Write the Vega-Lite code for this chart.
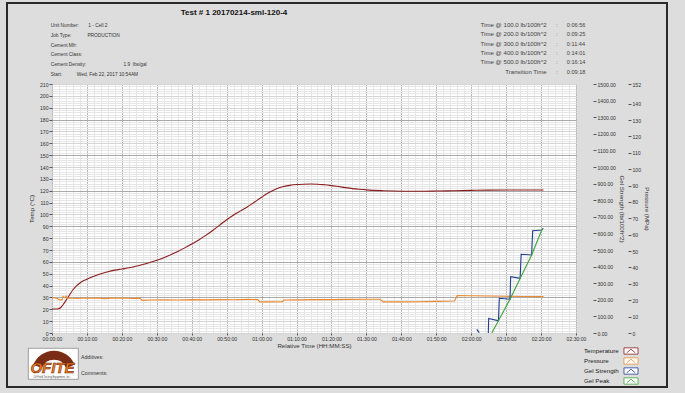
{
  "$schema": "https://vega.github.io/schema/vega-lite/v6.json",
  "width": 524,
  "height": 249,
  "autosize": {"type": "none"},
  "padding": {"left": 52, "top": 84, "right": 109, "bottom": 60},
  "background": "#dddddd",
  "config": {
    "font": "Liberation Sans",
    "view": {"fill": "white", "stroke": "#9a9a9a", "strokeWidth": 1},
    "axis": {
      "labelFont": "Liberation Sans", "labelFontSize": 5.1, "labelColor": "#333333",
      "titleFont": "Liberation Sans", "titleFontSize": 6.2, "titleFontWeight": "normal", "titleColor": "#333333",
      "tickColor": "#555555", "tickSize": 3, "labelPadding": 1, "domain": false, "labelOverlap": false
    },
    "text": {"font": "Liberation Sans", "color": "#333333"}
  },
  "datasets": {
    "notes": [
      {"id": "frame", "text": ""},
      {"id": "title", "text": "Test # 1 20170214-sml-120-4"},
      {"id": "info", "text": "Unit Number:\u00a0\u00a0\u00a0\u00a0\u00a0\u00a0\u00a01 - Cell 2\nJob Type:\u00a0\u00a0\u00a0\u00a0\u00a0\u00a0\u00a0\u00a0\u00a0\u00a0\u00a0\u00a0PRODUCTION\nCement Mfr:\nCement Class:\nCement Density:\u00a0\u00a0\u00a0\u00a0\u00a0\u00a0\u00a0\u00a0\u00a0\u00a0\u00a0\u00a0\u00a0\u00a0\u00a0\u00a0\u00a0\u00a0\u00a0\u00a0\u00a0\u00a0\u00a0\u00a0\u00a0\u00a0\u00a0\u00a01.9\u00a0\u00a0lbs/gal\nStart:\u00a0\u00a0\u00a0\u00a0\u00a0\u00a0\u00a0\u00a0\u00a0\u00a0\u00a0Wed, Feb 22, 2017 10:54AM"},
      {"id": "timelabels", "text": "Time @ 100.0 lb/100ft^2\nTime @ 200.0 lb/100ft^2\nTime @ 300.0 lb/100ft^2\nTime @ 400.0 lb/100ft^2\nTime @ 500.0 lb/100ft^2\nTransition Time"},
      {"id": "timevalues", "text": ":\u00a0\u00a0\u00a0\u00a0\u00a0\u00a00:06:56\n:\u00a0\u00a0\u00a0\u00a0\u00a0\u00a00:09:25\n:\u00a0\u00a0\u00a0\u00a0\u00a0\u00a00:11:44\n:\u00a0\u00a0\u00a0\u00a0\u00a0\u00a00:14:01\n:\u00a0\u00a0\u00a0\u00a0\u00a0\u00a00:16:14\n:\u00a0\u00a0\u00a0\u00a0\u00a0\u00a00:09:18"},
      {"id": "footer", "text": "\u00a0\u00a0\u00a0Additives:\nComments:"},
      {"id": "logo", "text": "OFITE"},
      {"id": "maker", "text": "Oil Field Testing Equipment, Inc."}
    ],
    "readings": [
      {"series": "Temperature", "seg": "a", "minutes": 0, "value": 20.2},
      {"series": "Temperature", "seg": "a", "minutes": 1, "value": 20.2},
      {"series": "Temperature", "seg": "a", "minutes": 1.8, "value": 20.4},
      {"series": "Temperature", "seg": "a", "minutes": 2.5, "value": 21.5},
      {"series": "Temperature", "seg": "a", "minutes": 3.2, "value": 24},
      {"series": "Temperature", "seg": "a", "minutes": 4, "value": 27.5},
      {"series": "Temperature", "seg": "a", "minutes": 5, "value": 32},
      {"series": "Temperature", "seg": "a", "minutes": 6, "value": 36.5},
      {"series": "Temperature", "seg": "a", "minutes": 7, "value": 39.8},
      {"series": "Temperature", "seg": "a", "minutes": 8, "value": 42.2},
      {"series": "Temperature", "seg": "a", "minutes": 9, "value": 44},
      {"series": "Temperature", "seg": "a", "minutes": 10, "value": 45.3},
      {"series": "Temperature", "seg": "a", "minutes": 12, "value": 47.8},
      {"series": "Temperature", "seg": "a", "minutes": 14, "value": 50},
      {"series": "Temperature", "seg": "a", "minutes": 16, "value": 51.7},
      {"series": "Temperature", "seg": "a", "minutes": 18, "value": 53},
      {"series": "Temperature", "seg": "a", "minutes": 20, "value": 54},
      {"series": "Temperature", "seg": "a", "minutes": 22, "value": 55},
      {"series": "Temperature", "seg": "a", "minutes": 24, "value": 56.3},
      {"series": "Temperature", "seg": "a", "minutes": 26, "value": 57.8},
      {"series": "Temperature", "seg": "a", "minutes": 28, "value": 59.5},
      {"series": "Temperature", "seg": "a", "minutes": 30, "value": 61.3},
      {"series": "Temperature", "seg": "a", "minutes": 32, "value": 63.5},
      {"series": "Temperature", "seg": "a", "minutes": 34, "value": 66},
      {"series": "Temperature", "seg": "a", "minutes": 36, "value": 68.8},
      {"series": "Temperature", "seg": "a", "minutes": 38, "value": 71.8},
      {"series": "Temperature", "seg": "a", "minutes": 40, "value": 75},
      {"series": "Temperature", "seg": "a", "minutes": 42, "value": 78.5},
      {"series": "Temperature", "seg": "a", "minutes": 44, "value": 82.3},
      {"series": "Temperature", "seg": "a", "minutes": 46, "value": 86.5},
      {"series": "Temperature", "seg": "a", "minutes": 48, "value": 91},
      {"series": "Temperature", "seg": "a", "minutes": 50, "value": 95.5},
      {"series": "Temperature", "seg": "a", "minutes": 52, "value": 99.5},
      {"series": "Temperature", "seg": "a", "minutes": 54, "value": 103},
      {"series": "Temperature", "seg": "a", "minutes": 56, "value": 106.5},
      {"series": "Temperature", "seg": "a", "minutes": 58, "value": 110.5},
      {"series": "Temperature", "seg": "a", "minutes": 60, "value": 114.5},
      {"series": "Temperature", "seg": "a", "minutes": 62, "value": 118.2},
      {"series": "Temperature", "seg": "a", "minutes": 64, "value": 121.2},
      {"series": "Temperature", "seg": "a", "minutes": 66, "value": 123.3},
      {"series": "Temperature", "seg": "a", "minutes": 68, "value": 124.5},
      {"series": "Temperature", "seg": "a", "minutes": 70, "value": 125.2},
      {"series": "Temperature", "seg": "a", "minutes": 72, "value": 125.5},
      {"series": "Temperature", "seg": "a", "minutes": 74, "value": 125.6},
      {"series": "Temperature", "seg": "a", "minutes": 76, "value": 125.5},
      {"series": "Temperature", "seg": "a", "minutes": 78, "value": 125},
      {"series": "Temperature", "seg": "a", "minutes": 80, "value": 124.3},
      {"series": "Temperature", "seg": "a", "minutes": 82, "value": 123.5},
      {"series": "Temperature", "seg": "a", "minutes": 84, "value": 122.6},
      {"series": "Temperature", "seg": "a", "minutes": 86, "value": 121.8},
      {"series": "Temperature", "seg": "a", "minutes": 88, "value": 121.2},
      {"series": "Temperature", "seg": "a", "minutes": 90, "value": 120.7},
      {"series": "Temperature", "seg": "a", "minutes": 95, "value": 120},
      {"series": "Temperature", "seg": "a", "minutes": 100, "value": 119.6},
      {"series": "Temperature", "seg": "a", "minutes": 105, "value": 119.5},
      {"series": "Temperature", "seg": "a", "minutes": 110, "value": 119.7},
      {"series": "Temperature", "seg": "a", "minutes": 115, "value": 120},
      {"series": "Temperature", "seg": "a", "minutes": 120, "value": 120.3},
      {"series": "Temperature", "seg": "a", "minutes": 125, "value": 120.5},
      {"series": "Temperature", "seg": "a", "minutes": 130, "value": 120.6},
      {"series": "Temperature", "seg": "a", "minutes": 135, "value": 120.6},
      {"series": "Temperature", "seg": "a", "minutes": 140.7, "value": 120.6},
      {"series": "Pressure", "seg": "a", "minutes": 0, "value": 21.6},
      {"series": "Pressure", "seg": "a", "minutes": 0.8, "value": 21.4},
      {"series": "Pressure", "seg": "a", "minutes": 1.5, "value": 21.1},
      {"series": "Pressure", "seg": "a", "minutes": 2.2, "value": 20.2},
      {"series": "Pressure", "seg": "a", "minutes": 2.9, "value": 20.3},
      {"series": "Pressure", "seg": "a", "minutes": 3.2, "value": 22.3},
      {"series": "Pressure", "seg": "a", "minutes": 3.6, "value": 21.5},
      {"series": "Pressure", "seg": "a", "minutes": 4, "value": 22.5},
      {"series": "Pressure", "seg": "a", "minutes": 4.5, "value": 21.2},
      {"series": "Pressure", "seg": "a", "minutes": 5.5, "value": 21.4},
      {"series": "Pressure", "seg": "a", "minutes": 7, "value": 21.1},
      {"series": "Pressure", "seg": "a", "minutes": 9, "value": 21.4},
      {"series": "Pressure", "seg": "a", "minutes": 11, "value": 21.2},
      {"series": "Pressure", "seg": "a", "minutes": 13, "value": 21.4},
      {"series": "Pressure", "seg": "a", "minutes": 15, "value": 21},
      {"series": "Pressure", "seg": "a", "minutes": 17, "value": 21.3},
      {"series": "Pressure", "seg": "a", "minutes": 19, "value": 21.2},
      {"series": "Pressure", "seg": "a", "minutes": 21, "value": 21.4},
      {"series": "Pressure", "seg": "a", "minutes": 23, "value": 21.1},
      {"series": "Pressure", "seg": "a", "minutes": 25.2, "value": 21.3},
      {"series": "Pressure", "seg": "a", "minutes": 25.8, "value": 19.9},
      {"series": "Pressure", "seg": "a", "minutes": 28, "value": 20.1},
      {"series": "Pressure", "seg": "a", "minutes": 32, "value": 20.3},
      {"series": "Pressure", "seg": "a", "minutes": 36, "value": 20.1},
      {"series": "Pressure", "seg": "a", "minutes": 40, "value": 20.4},
      {"series": "Pressure", "seg": "a", "minutes": 44, "value": 20.2},
      {"series": "Pressure", "seg": "a", "minutes": 48, "value": 20.4},
      {"series": "Pressure", "seg": "a", "minutes": 52, "value": 20.3},
      {"series": "Pressure", "seg": "a", "minutes": 56, "value": 20.5},
      {"series": "Pressure", "seg": "a", "minutes": 58.9, "value": 20.4},
      {"series": "Pressure", "seg": "a", "minutes": 59.5, "value": 19},
      {"series": "Pressure", "seg": "a", "minutes": 62, "value": 19},
      {"series": "Pressure", "seg": "a", "minutes": 66, "value": 19.1},
      {"series": "Pressure", "seg": "a", "minutes": 66.4, "value": 20.1},
      {"series": "Pressure", "seg": "a", "minutes": 70, "value": 20.2},
      {"series": "Pressure", "seg": "a", "minutes": 75, "value": 20.4},
      {"series": "Pressure", "seg": "a", "minutes": 80, "value": 20.4},
      {"series": "Pressure", "seg": "a", "minutes": 85, "value": 20.5},
      {"series": "Pressure", "seg": "a", "minutes": 90, "value": 20.6},
      {"series": "Pressure", "seg": "a", "minutes": 93.9, "value": 20.6},
      {"series": "Pressure", "seg": "a", "minutes": 94.8, "value": 19},
      {"series": "Pressure", "seg": "a", "minutes": 100, "value": 19},
      {"series": "Pressure", "seg": "a", "minutes": 105, "value": 19.1},
      {"series": "Pressure", "seg": "a", "minutes": 110, "value": 19.3},
      {"series": "Pressure", "seg": "a", "minutes": 115.2, "value": 19.5},
      {"series": "Pressure", "seg": "a", "minutes": 116, "value": 22.8},
      {"series": "Pressure", "seg": "a", "minutes": 120, "value": 22.7},
      {"series": "Pressure", "seg": "a", "minutes": 125, "value": 22.6},
      {"series": "Pressure", "seg": "a", "minutes": 130, "value": 22.4},
      {"series": "Pressure", "seg": "a", "minutes": 135, "value": 22.3},
      {"series": "Pressure", "seg": "a", "minutes": 140.7, "value": 22.2},
      {"series": "Gel Strength", "seg": "a", "minutes": 121.6, "value": 22},
      {"series": "Gel Strength", "seg": "a", "minutes": 122.3, "value": 2},
      {"series": "Gel Strength", "seg": "b", "minutes": 124.9, "value": 0},
      {"series": "Gel Strength", "seg": "b", "minutes": 125, "value": 88},
      {"series": "Gel Strength", "seg": "b", "minutes": 127.8, "value": 74},
      {"series": "Gel Strength", "seg": "b", "minutes": 128.05, "value": 209},
      {"series": "Gel Strength", "seg": "b", "minutes": 131.1, "value": 203},
      {"series": "Gel Strength", "seg": "b", "minutes": 131.3, "value": 339},
      {"series": "Gel Strength", "seg": "b", "minutes": 134, "value": 329},
      {"series": "Gel Strength", "seg": "b", "minutes": 134.3, "value": 474},
      {"series": "Gel Strength", "seg": "b", "minutes": 137.3, "value": 470},
      {"series": "Gel Strength", "seg": "b", "minutes": 137.6, "value": 616},
      {"series": "Gel Strength", "seg": "b", "minutes": 140.2, "value": 620},
      {"series": "Gel Strength", "seg": "b", "minutes": 140.6, "value": 631},
      {"series": "Gel Peak", "seg": "c", "minutes": 125.9, "value": 0},
      {"series": "Gel Peak", "seg": "c", "minutes": 127.8, "value": 74},
      {"series": "Gel Peak", "seg": "c", "minutes": 131.1, "value": 203},
      {"series": "Gel Peak", "seg": "c", "minutes": 134, "value": 329},
      {"series": "Gel Peak", "seg": "c", "minutes": 137.3, "value": 470},
      {"series": "Gel Peak", "seg": "c", "minutes": 140.2, "value": 620},
      {"series": "Gel Peak", "seg": "c", "minutes": 140.6, "value": 631}
    ]
  },
  "resolve": {"scale": {"y": "independent"}, "axis": {"x": "independent"}},
  "layer": [
    {
      "data": {"name": "notes"},
      "transform": [{"filter": "datum.id === 'frame'"}],
      "mark": {"type": "rect", "filled": false, "stroke": "#2a2a2a", "strokeWidth": 2},
      "encoding": {
        "x": {"datum": -12.88, "type": "quantitative", "scale": {"domain": [0, 150], "nice": false, "zero": false},
              "axis": {"orient": "top", "tickCount": 75, "grid": true, "gridColor": "#e6e6e6", "labels": false, "ticks": false, "title": null}},
        "x2": {"datum": 176.05},
        "y": {"datum": 278.3, "type": "quantitative", "scale": {"domain": [0, 210], "nice": false, "zero": false},
              "axis": {"orient": "left", "tickCount": 105, "grid": true, "gridColor": "#e6e6e6", "labels": false, "ticks": false, "title": null}},
        "y2": {"datum": -45.54}
      }
    },
    {
      "data": {"name": "readings"},
      "transform": [{"filter": "datum.series === 'Temperature'"}],
      "mark": {"type": "line", "strokeWidth": 1.1, "interpolate": "monotone"},
      "encoding": {
        "x": {"field": "minutes", "type": "quantitative", "scale": {"domain": [0, 150], "nice": false, "zero": false},
              "axis": {"orient": "bottom", "values": [0, 10, 20, 30, 40, 50, 60, 70, 80, 90, 100, 110, 120, 130, 140, 150],
                       "labelExpr": "utcFormat(datum.value * 60000, '%H:%M:%S')", "labelFlush": false,
                       "grid": true, "gridColor": "#b8b8b8", "tickSize": 2, "title": "Relative Time (HH:MM:SS)", "titlePadding": 1}},
        "y": {"field": "value", "type": "quantitative", "scale": {"domain": [0, 210], "nice": false, "zero": false},
              "axis": {"orient": "left", "values": [0, 10, 20, 30, 40, 50, 60, 70, 80, 90, 100, 110, 120, 130, 140, 150, 160, 170, 180, 190, 200, 210],
                       "grid": true, "gridColor": "#d4d4d4", "title": "Temp (°C)", "titlePadding": 5}},
        "color": {"field": "series", "type": "nominal",
                  "scale": {"domain": ["Temperature", "Pressure", "Gel Strength", "Gel Peak"], "range": ["#8c1c1c", "#ec8a32", "#1f3e8e", "#3da33d"]},
                  "legend": {"orient": "none", "legendX": 533, "legendY": 262, "title": null, "padding": 0,
                             "symbolType": "M-1.56,-0.7H1.56V0.7H-1.56ZM-0.95,0.4L0,-0.4L0.95,0.4", "symbolSize": 81,
                             "symbolStrokeWidth": 0.8, "symbolFillColor": "white", "labelFontSize": 6.2, "labelColor": "#222222",
                             "labelOffset": -52, "symbolOffset": 41, "rowPadding": -1.1}}
      }
    },
    {
      "data": {"name": "readings"},
      "transform": [{"filter": "datum.series === 'Pressure'"}],
      "mark": {"type": "line", "strokeWidth": 1.1},
      "encoding": {
        "x": {"field": "minutes", "type": "quantitative", "axis": null},
        "y": {"field": "value", "type": "quantitative", "scale": {"domain": [0, 152], "nice": false, "zero": false},
              "axis": {"orient": "right", "offset": 52, "values": [0, 10, 20, 30, 40, 50, 60, 70, 80, 90, 100, 110, 120, 130, 140, 152],
                       "grid": false, "title": "Pressure (MPa)", "titlePadding": 3}},
        "color": {"field": "series", "type": "nominal"}
      }
    },
    {
      "data": {"name": "readings"},
      "transform": [{"filter": "datum.series === 'Gel Strength' || datum.series === 'Gel Peak'"}],
      "mark": {"type": "line", "strokeWidth": 1.1},
      "encoding": {
        "x": {"field": "minutes", "type": "quantitative", "axis": null},
        "y": {"field": "value", "type": "quantitative", "scale": {"domain": [0, 1500], "nice": false, "zero": false},
              "axis": {"orient": "right", "offset": 17, "values": [0, 100, 200, 300, 400, 500, 600, 700, 800, 900, 1000, 1100, 1200, 1300, 1400, 1500],
                       "format": ".2f", "grid": false, "title": "Gel Strength (lb/100ft^2)", "titlePadding": 3}},
        "color": {"field": "series", "type": "nominal"},
        "detail": {"field": "seg", "type": "nominal"}
      }
    },
    {
      "data": {"name": "notes"},
      "transform": [{"filter": "datum.id === 'title'"}],
      "mark": {"type": "text", "fontWeight": "bold", "fontSize": 8, "align": "center", "baseline": "middle", "color": "#111111"},
      "encoding": {
        "x": {"datum": 52.1, "type": "quantitative", "axis": null},
        "y": {"datum": 269.6, "type": "quantitative", "scale": {"domain": [0, 210], "nice": false, "zero": false},
              "axis": {"orient": "left", "values": [30, 60, 90, 120, 150, 180], "grid": true, "gridColor": "#a9a9a9", "labels": false, "ticks": false, "title": null}},
        "text": {"field": "text"}
      }
    },
    {
      "data": {"name": "notes"},
      "transform": [{"filter": "datum.id === 'info'"}],
      "mark": {"type": "text", "fontSize": 4.8, "align": "left", "baseline": "middle", "lineBreak": "\n", "lineHeight": 9.7},
      "encoding": {
        "x": {"datum": -0.37, "type": "quantitative", "axis": null},
        "y": {"datum": 258.6, "type": "quantitative", "scale": {"domain": [0, 210], "nice": false, "zero": false}, "axis": null},
        "text": {"field": "text"}
      }
    },
    {
      "data": {"name": "notes"},
      "transform": [{"filter": "datum.id === 'timelabels'"}],
      "mark": {"type": "text", "fontSize": 6.1, "align": "right", "baseline": "middle", "lineBreak": "\n", "lineHeight": 9.3, "color": "#444444"},
      "encoding": {
        "x": {"datum": 141.61, "type": "quantitative", "axis": null},
        "y": {"datum": 259.7, "type": "quantitative", "scale": {"domain": [0, 210], "nice": false, "zero": false}, "axis": null},
        "text": {"field": "text"}
      }
    },
    {
      "data": {"name": "notes"},
      "transform": [{"filter": "datum.id === 'timevalues'"}],
      "mark": {"type": "text", "fontSize": 5.6, "align": "left", "baseline": "middle", "lineBreak": "\n", "lineHeight": 9.3, "color": "#444444"},
      "encoding": {
        "x": {"datum": 144.25, "type": "quantitative", "axis": null},
        "y": {"datum": 259.7, "type": "quantitative", "scale": {"domain": [0, 210], "nice": false, "zero": false}, "axis": null},
        "text": {"field": "text"}
      }
    },
    {
      "data": {"name": "notes"},
      "transform": [{"filter": "datum.id === 'footer'"}],
      "mark": {"type": "text", "fontSize": 5.2, "align": "left", "baseline": "middle", "lineBreak": "\n", "lineHeight": 16},
      "encoding": {
        "x": {"datum": 8.3, "type": "quantitative", "axis": null},
        "y": {"datum": -20.2, "type": "quantitative", "scale": {"domain": [0, 210], "nice": false, "zero": false}, "axis": null},
        "text": {"field": "text"}
      }
    },
    {
      "data": {"name": "notes"},
      "transform": [{"filter": "datum.id === 'logo'"}],
      "mark": {"type": "rect", "fill": "white", "stroke": "#8a8a8a", "strokeWidth": 0.8},
      "encoding": {
        "x": {"datum": -6.78, "type": "quantitative", "axis": null},
        "x2": {"datum": 7.53},
        "y": {"datum": -12.9, "type": "quantitative", "scale": {"domain": [0, 210], "nice": false, "zero": false}, "axis": null},
        "y2": {"datum": -39.05}
      }
    },
    {
      "data": {"name": "notes"},
      "transform": [{"filter": "datum.id === 'logo'"}],
      "mark": {"type": "arc", "innerRadius": 13, "outerRadius": 22, "theta": -1.2, "theta2": 1.2, "color": "#7a2c14"},
      "encoding": {
        "x": {"datum": 0.57, "type": "quantitative", "axis": null},
        "y": {"datum": -33.5, "type": "quantitative", "scale": {"domain": [0, 210], "nice": false, "zero": false}, "axis": null}
      }
    },
    {
      "data": {"name": "notes"},
      "transform": [{"filter": "datum.id === 'logo'"}],
      "mark": {"type": "text", "fontSize": 15, "fontWeight": "bold", "fontStyle": "italic", "align": "center", "baseline": "middle", "fill": "#f07a1e", "stroke": "#5a200c", "strokeWidth": 0.5},
      "encoding": {
        "x": {"datum": 0.14, "type": "quantitative", "axis": null},
        "y": {"datum": -29.5, "type": "quantitative", "scale": {"domain": [0, 210], "nice": false, "zero": false}, "axis": null},
        "text": {"field": "text"}
      }
    },
    {
      "data": {"name": "notes"},
      "transform": [{"filter": "datum.id === 'maker'"}],
      "mark": {"type": "text", "fontSize": 2.6, "align": "center", "baseline": "middle", "color": "#444444"},
      "encoding": {
        "x": {"datum": 0, "type": "quantitative", "axis": null},
        "y": {"datum": -37.1, "type": "quantitative", "scale": {"domain": [0, 210], "nice": false, "zero": false}, "axis": null},
        "text": {"field": "text"}
      }
    }
  ]
}
